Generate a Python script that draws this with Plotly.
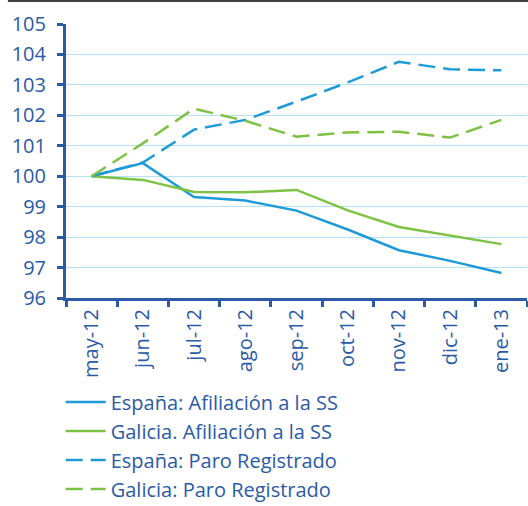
import plotly.graph_objects as go

months = ["may-12", "jun-12", "jul-12", "ago-12", "sep-12", "oct-12", "nov-12", "dic-12", "ene-13"]
espana_afil = [100.0, 100.43, 99.32, 99.2, 98.87, 98.25, 97.57, 97.22, 96.82]
galicia_afil = [100.0, 99.88, 99.48, 99.47, 99.55, 98.88, 98.33, 98.05, 97.77]
espana_paro = [100.0, 100.45, 101.53, 101.85, 102.45, 103.08, 103.76, 103.51, 103.48]
galicia_paro = [100.0, 101.08, 102.22, 101.82, 101.3, 101.44, 101.46, 101.27, 101.85]
y_ticks = [96, 97, 98, 99, 100, 101, 102, 103, 104, 105]

BLUE = "#1e9bd7"
GREEN = "#7dc243"
TXT = "#2b5aa6"
AX = "#2b5aa6"

fig = go.Figure()
series = [
    ("España: Afiliación a la SS", espana_afil, BLUE, "solid"),
    ("Galicia. Afiliación a la SS", galicia_afil, GREEN, "solid"),
    ("España: Paro Registrado", espana_paro, BLUE, "17px,8px"),
    ("Galicia: Paro Registrado", galicia_paro, GREEN, "17px,8px"),
]
for i, (name, vals, col, dash) in enumerate(series):
    fig.add_trace(go.Scatter(x=months, y=vals, name=name, mode="lines",
                             line=dict(color=col, width=2.5, dash=dash),
                             legendgroup=str(i)))

fig.update_layout(
    width=528, height=506,
    margin=dict(l=66, r=1, t=24, b=208, autoexpand=False),
    paper_bgcolor="white", plot_bgcolor="white",
    font=dict(family="Open Sans, sans-serif", color=TXT, size=20),
    showlegend=True,
    legend=dict(x=-0.0115, y=-0.308, xanchor="left", yanchor="top",
                font=dict(size=20, color=TXT), tracegroupgap=0, itemwidth=40,
                bgcolor="rgba(0,0,0,0)"),
    xaxis=dict(type="category", range=[-0.5, 8.5], showgrid=False,
               showline=True, linecolor=AX, linewidth=3, automargin=False,
               ticks="outside", tickson="boundaries", ticklen=6, tickwidth=2.5,
               tickcolor=AX, tickangle=-90, tickfont=dict(size=20, color=TXT)),
    yaxis=dict(range=[96, 105], tickvals=y_ticks, showgrid=True,
               gridcolor="#b5e1f5", gridwidth=1.2, zeroline=False,
               showline=True, linecolor=AX, linewidth=3, automargin=False,
               ticks="outside", ticklen=6, tickwidth=2.5, tickcolor=AX,
               ticklabelstandoff=7,
               tickfont=dict(size=20, color=TXT)),
    shapes=[dict(type="line", xref="paper", yref="paper", x0=-0.126, x1=1.01,
                 y0=1.084, y1=1.084, line=dict(color="#404040", width=2))],
)
fig.write_html("out.html", config={"displayModeBar": False},
               post_script="document.body.style.margin='0px';document.body.style.overflow='hidden';")
